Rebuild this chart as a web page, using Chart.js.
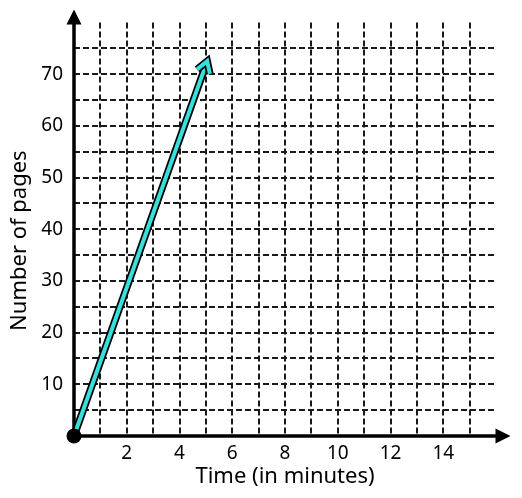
<!DOCTYPE html>
<html>
<head>
<meta charset="utf-8">
<script src="https://cdn.jsdelivr.net/npm/chart.js@4.4.1/dist/chart.umd.min.js"></script>
<style>
  body { margin: 0; background: #fff; }
  #wrap { width: 522px; height: 498px; }
</style>
</head>
<body>
<div id="wrap"><canvas id="graph" width="522" height="498"></canvas></div>
<script>
// données
const tempsMinutes = [0, 5.05];
const nombrePages = [0, 72.5];
const xLabels = [2, 4, 6, 8, 10, 12, 14];
const yLabels = [10, 20, 30, 40, 50, 60, 70];
const xMax = 16;
const yMax = 80;

const teal = '#38e0dc';
const police = 'Noto Sans';

const points = tempsMinutes.map((t, i) => ({ x: t, y: nombrePages[i] }));

// axes noirs avec flèches
const axesPlugin = {
  id: 'axes',
  beforeDatasetsDraw(chart) {
    const ctx = chart.ctx;
    const xs = chart.scales.x, ys = chart.scales.y;
    const x0 = xs.getPixelForValue(0), y0 = ys.getPixelForValue(0);
    const xEnd = xs.getPixelForValue(xMax + 0.55);
    const yEnd = ys.getPixelForValue(yMax + 2.5);
    ctx.save();
    ctx.strokeStyle = '#000';
    ctx.fillStyle = '#000';
    ctx.lineWidth = 3.5;
    ctx.beginPath();
    ctx.moveTo(x0, y0);
    ctx.lineTo(xEnd - 10, y0);
    ctx.moveTo(x0, y0);
    ctx.lineTo(x0, yEnd + 10);
    ctx.stroke();
    // pointes
    ctx.beginPath();
    ctx.moveTo(xEnd, y0);
    ctx.lineTo(xEnd - 15, y0 - 7.5);
    ctx.lineTo(xEnd - 15, y0 + 7.5);
    ctx.closePath();
    ctx.fill();
    ctx.beginPath();
    ctx.moveTo(x0, yEnd);
    ctx.lineTo(x0 - 7.5, yEnd + 15);
    ctx.lineTo(x0 + 7.5, yEnd + 15);
    ctx.closePath();
    ctx.fill();
    ctx.restore();
  }
};

// pointe de flèche au bout de la droite + point à l'origine
const flechePlugin = {
  id: 'fleche',
  afterDatasetsDraw(chart) {
    const meta = chart.getDatasetMeta(0);
    const pts = meta.data;
    const a = pts[pts.length - 2], b = pts[pts.length - 1];
    const ang = Math.atan2(b.y - a.y, b.x - a.x);
    const L = 13, w = 0.55;
    const ctx = chart.ctx;
    ctx.save();
    ctx.lineJoin = 'miter';
    ctx.lineCap = 'butt';
    const chemin = () => {
      ctx.beginPath();
      ctx.moveTo(b.x - L * Math.cos(ang - w), b.y - L * Math.sin(ang - w));
      ctx.lineTo(b.x, b.y);
      ctx.lineTo(b.x - L * Math.cos(ang + w), b.y - L * Math.sin(ang + w));
    };
    chemin();
    ctx.strokeStyle = '#000';
    ctx.lineWidth = 7.5;
    ctx.stroke();
    chemin();
    ctx.strokeStyle = teal;
    ctx.lineWidth = 4;
    ctx.stroke();
    // gros point noir au départ
    ctx.beginPath();
    ctx.arc(a.x, a.y, 7.5, 0, Math.PI * 2);
    ctx.fillStyle = '#000';
    ctx.fill();
    ctx.restore();
  }
};

new Chart(document.getElementById('graph'), {
  type: 'scatter',
  data: {
    datasets: [
      {
        data: points,
        showLine: true,
        borderColor: teal,
        borderWidth: 4,
        pointRadius: 0,
        clip: false
      },
      {
        data: points,
        showLine: true,
        borderColor: '#000',
        borderWidth: 7.5,
        pointRadius: 0,
        clip: false
      }
    ]
  },
  options: {
    responsive: false,
    animation: false,
    layout: { padding: { top: 15, right: 26, left: 0, bottom: 0 } },
    plugins: { legend: { display: false }, tooltip: { enabled: false } },
    scales: {
      x: {
        type: 'linear',
        min: 0,
        max: xMax,
        afterFit: (s) => { s.height = 62; },
        ticks: {
          stepSize: 1,
          autoSkip: false,
          maxRotation: 0,
          padding: 6,
          color: '#000',
          font: { family: police, size: 19 },
          callback: (v) => xLabels.includes(v) ? v : ''
        },
        grid: {
          drawTicks: false,
          lineWidth: 2,
          color: (c) => (c.tick && (c.tick.value === 0 || c.tick.value === xMax)) ? 'rgba(0,0,0,0)' : '#1a1a1a'
        },
        border: { display: false, dash: [6, 3] },
        title: {
          display: true,
          text: 'Time (in minutes)',
          color: '#000',
          font: { family: police, size: 22 },
          padding: { top: 0, bottom: 8 }
        }
      },
      y: {
        type: 'linear',
        min: 0,
        max: yMax,
        afterFit: (s) => { s.width = 74; },
        ticks: {
          stepSize: 5,
          autoSkip: false,
          padding: 11,
          color: '#000',
          font: { family: police, size: 19 },
          callback: (v) => yLabels.includes(v) ? v : ''
        },
        grid: {
          drawTicks: false,
          lineWidth: 2,
          color: (c) => (c.tick && (c.tick.value === 0 || c.tick.value === yMax)) ? 'rgba(0,0,0,0)' : '#1a1a1a'
        },
        border: { display: false, dash: [6, 3] },
        title: {
          display: true,
          text: 'Number of pages    ',
          color: '#000',
          font: { family: police, size: 22 },
          padding: { top: 7, bottom: 0 }
        }
      }
    }
  },
  plugins: [axesPlugin, flechePlugin]
});
</script>
</body>
</html>
